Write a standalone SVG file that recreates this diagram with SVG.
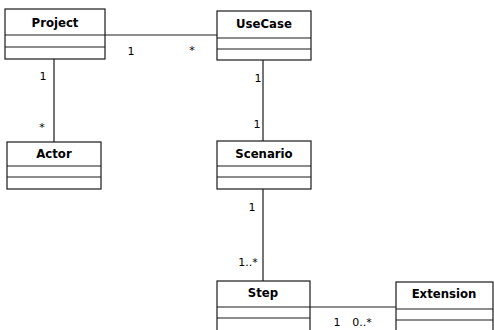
<svg xmlns="http://www.w3.org/2000/svg" width="494" height="330" viewBox="0 0 494 330">
  <style>
    .box { fill: #ffffff; stroke: #1a1a1a; stroke-width: 1.2; }
    .div { stroke: #1a1a1a; stroke-width: 1.2; }
    .title { font-family: "DejaVu Sans Condensed", "DejaVu Sans", sans-serif; font-stretch: condensed; font-weight: bold; font-size: 13px; fill: #000; text-anchor: middle; }
    .conn { stroke: #1a1a1a; stroke-width: 1.2; fill: none; }
    .mult { font-family: "DejaVu Sans", sans-serif; font-size: 11px; fill: #000; text-anchor: middle; }
  </style>
  <rect width="494" height="330" fill="#ffffff"/>

  <g id="connectors">
    <line class="conn" x1="105" y1="35" x2="217" y2="35"/>
    <line class="conn" x1="54" y1="59" x2="54" y2="142"/>
    <line class="conn" x1="263" y1="60" x2="263" y2="141"/>
    <line class="conn" x1="263" y1="189" x2="263" y2="281"/>
    <line class="conn" x1="310" y1="307" x2="396" y2="307"/>
    <text class="mult" x="131" y="55">1</text>
    <text class="mult" x="192" y="54">*</text>
    <text class="mult" x="43" y="80">1</text>
    <text class="mult" x="42" y="131">*</text>
    <text class="mult" x="258" y="82">1</text>
    <text class="mult" x="257" y="128">1</text>
    <text class="mult" x="252" y="211">1</text>
    <text class="mult" x="248" y="266">1..*</text>
    <text class="mult" x="337" y="326">1</text>
    <text class="mult" x="362" y="326">0..*</text>
  </g>

  <g id="project">
    <rect class="box" x="5" y="9" width="100" height="50"/>
    <line class="div" x1="5" y1="35" x2="105" y2="35"/>
    <line class="div" x1="5" y1="47" x2="105" y2="47"/>
    <text class="title" x="55" y="27">Project</text>
  </g>

  <g id="usecase">
    <rect class="box" x="217" y="11" width="94" height="49"/>
    <line class="div" x1="217" y1="38" x2="311" y2="38"/>
    <line class="div" x1="217" y1="49" x2="311" y2="49"/>
    <text class="title" x="264" y="28">UseCase</text>
  </g>

  <g id="actor">
    <rect class="box" x="7" y="142" width="94" height="47"/>
    <line class="div" x1="7" y1="166" x2="101" y2="166"/>
    <line class="div" x1="7" y1="177" x2="101" y2="177"/>
    <text class="title" x="54" y="158">Actor</text>
  </g>

  <g id="scenario">
    <rect class="box" x="217" y="141" width="94" height="48"/>
    <line class="div" x1="217" y1="166" x2="311" y2="166"/>
    <line class="div" x1="217" y1="177" x2="311" y2="177"/>
    <text class="title" x="264" y="158">Scenario</text>
  </g>

  <g id="step">
    <rect class="box" x="217" y="281" width="93" height="60"/>
    <line class="div" x1="217" y1="307" x2="310" y2="307"/>
    <line class="div" x1="217" y1="318" x2="310" y2="318"/>
    <text class="title" x="263" y="297">Step</text>
  </g>

  <g id="extension">
    <rect class="box" x="396" y="282" width="97" height="60"/>
    <line class="div" x1="396" y1="309" x2="493" y2="309"/>
    <line class="div" x1="396" y1="320" x2="493" y2="320"/>
    <text class="title" x="444" y="298">Extension</text>
  </g>
</svg>
